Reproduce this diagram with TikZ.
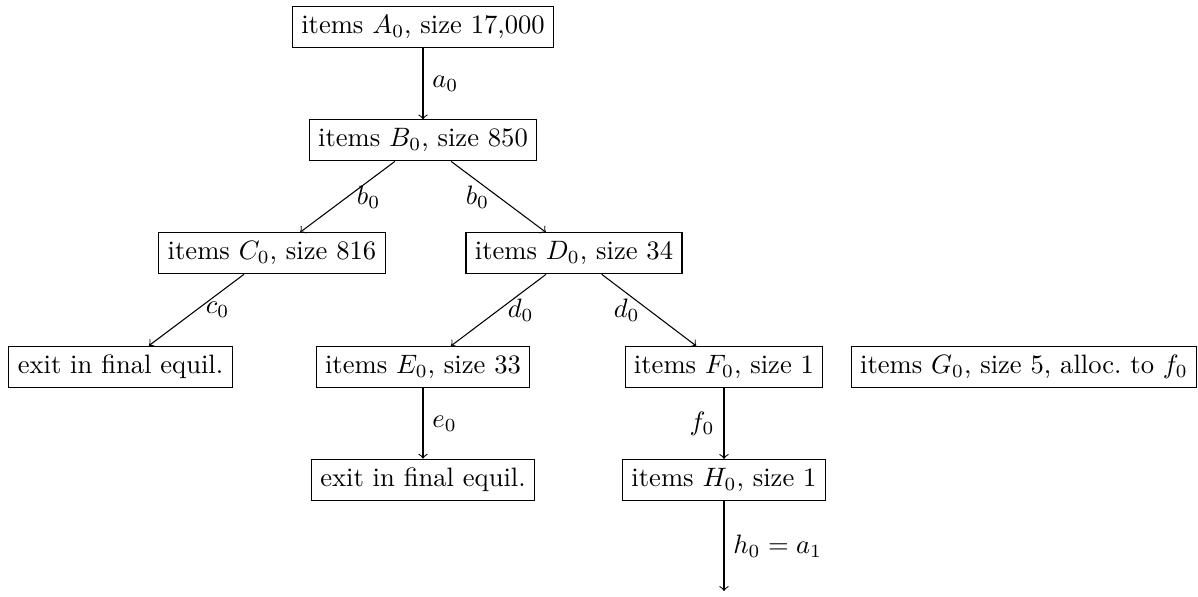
\documentclass[tikz,border=0pt]{standalone}
\begin{document}
\begin{tikzpicture}[x=0.3759pt,y=-0.3759pt,
  box/.style={draw,inner sep=3.33pt},
  conn/.style={->}]
\useasboundingbox (0,0) rectangle (1198,597);
\node[box] (A) at (423,27.2) {items $A_0$, size 17,000};
\node[box] (B) at (423,140.4) {items $B_0$, size 850};
\node[box] (C) at (272,253.3) {items $C_0$, size 816};
\node[box] (D) at (574,253.3) {items $D_0$, size 34};
\node[box] (X1) at (120.5,367) {exit in final equil.};
\node[box] (E) at (423,367) {items $E_0$, size 33};
\node[box] (F) at (724,367) {items $F_0$, size 1};
\node[box,anchor=east] (G) at (1197.3,367) {items $G_0$, size 5, alloc.\ to $f_0$};
\node[box] (X2) at (423,480) {exit in final equil.};
\node[box] (H) at (724,480) {items $H_0$, size 1};
\coordinate (Z) at (724,591);
\draw[conn] (A) -- node[right] {$a_0$} (B);
\draw[conn] (B) -- node[right] {$b_0$} (C);
\draw[conn] (B) -- node[left] {$b_0$} (D);
\draw[conn] (C) -- node[right] {$c_0$} (X1);
\draw[conn] (D) -- node[right] {$d_0$} (E);
\draw[conn] (D) -- node[left] {$d_0$} (F);
\draw[conn] (E) -- node[right] {$e_0$} (X2);
\draw[conn] (F) -- node[left] {$f_0$} (H);
\draw[conn] (H) -- node[right] {$h_0=a_1$} (Z);
\end{tikzpicture}
\end{document}
